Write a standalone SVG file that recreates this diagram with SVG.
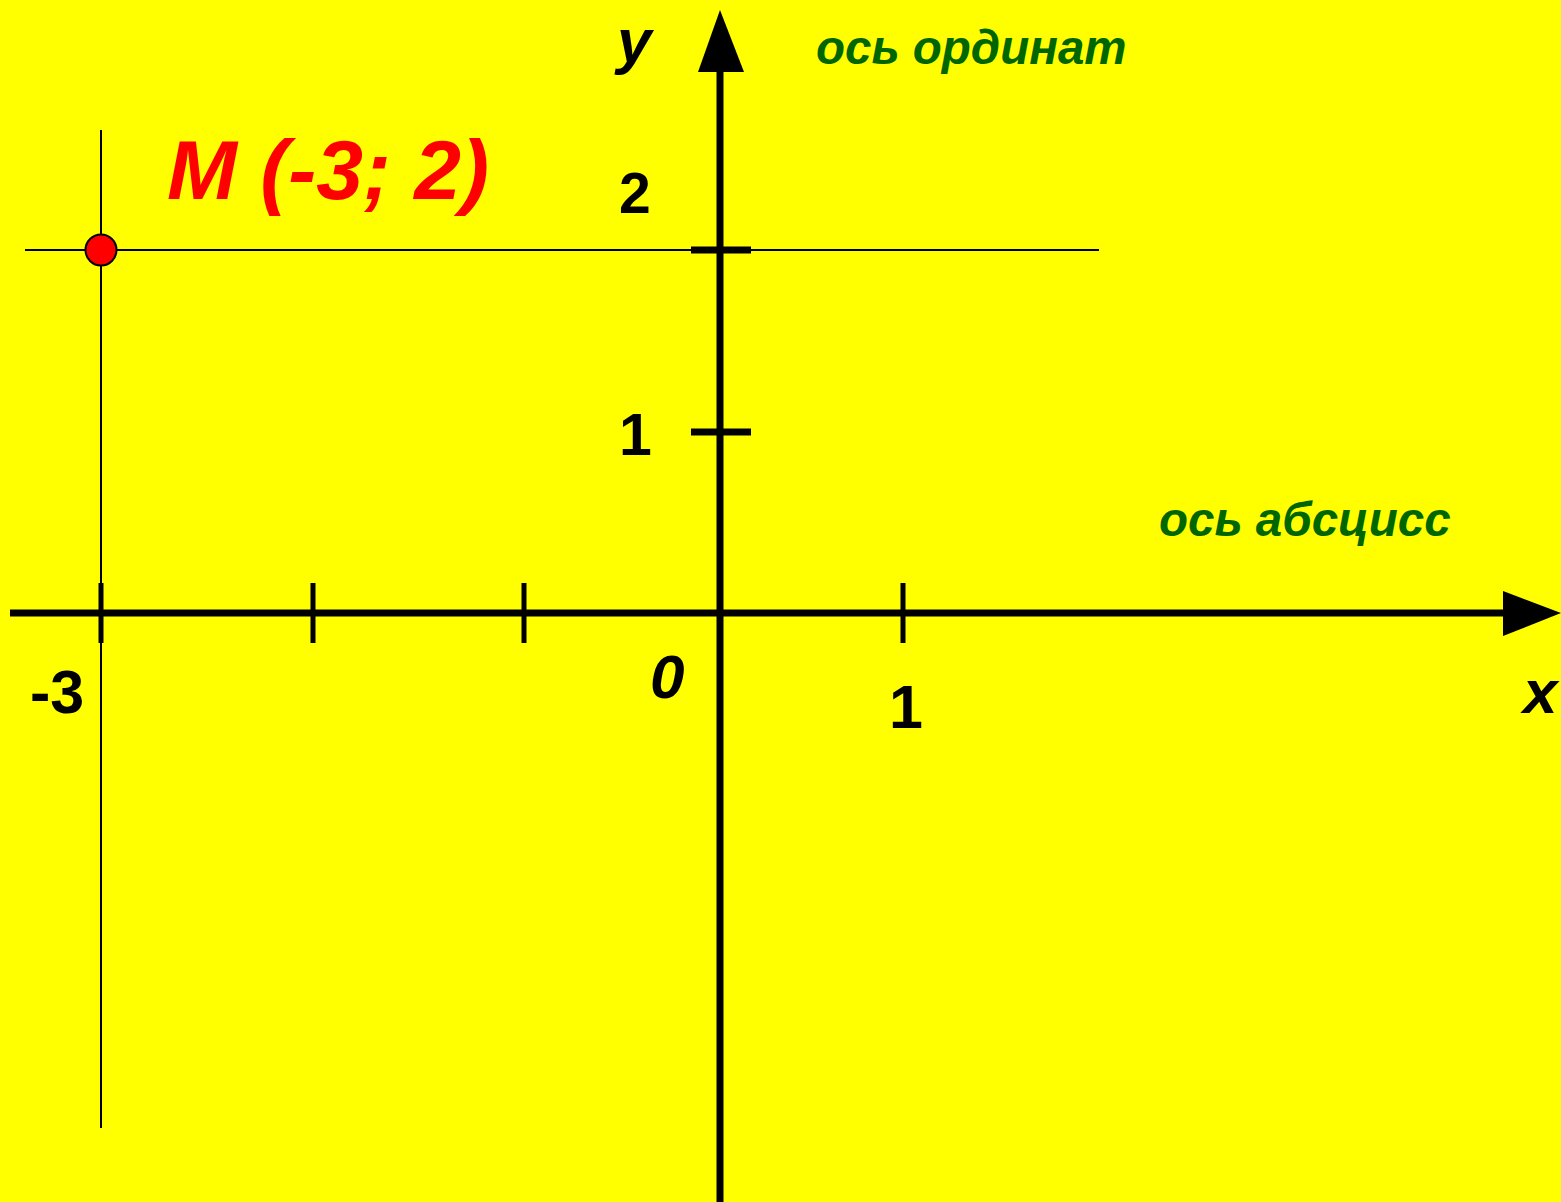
<svg xmlns="http://www.w3.org/2000/svg" width="1561" height="1202" viewBox="0 0 1561 1202">
<style>
.bk{font-family:"Liberation Sans",Arial,sans-serif;font-weight:bold;fill:#000}
.it{font-style:italic}
.gr{font-family:"Liberation Sans",Arial,sans-serif;font-weight:bold;font-style:italic;fill:#006600;font-size:47.5px}
.thin{stroke:#000;stroke-width:2}
.tick{stroke:#000;stroke-width:5}
.axis{stroke:#000;stroke-width:7}
</style>
<rect width="1561" height="1202" fill="#ffff00"/>
<g id="guides">
<line class="thin" x1="101" y1="130" x2="101" y2="1128"/>
<line class="thin" x1="25" y1="250" x2="1099" y2="250"/>
</g>
<g id="connectors">
<line class="axis" x1="10" y1="613" x2="1506" y2="613"/>
<polygon points="1503,591 1561,613 1503,636" fill="#000"/>
<line class="axis" x1="720" y1="1202" x2="720" y2="70"/>
<polygon points="698,72 720,10 744,72" fill="#000"/>
</g>
<g id="ticks">
<line class="tick" x1="101" y1="583" x2="101" y2="643"/>
<line class="tick" x1="313" y1="583" x2="313" y2="643"/>
<line class="tick" x1="524" y1="583" x2="524" y2="643"/>
<line class="tick" x1="903" y1="583" x2="903" y2="643"/>
<line class="axis" x1="691" y1="250" x2="751" y2="250"/>
<line class="axis" x1="691" y1="432" x2="751" y2="432"/>
</g>
<g id="point-M">
<circle cx="101" cy="250" r="15.5" fill="#ff0000" stroke="#000" stroke-width="2"/>
<text x="167" y="199" font-family="Liberation Sans, Arial, sans-serif" font-weight="bold" font-style="italic" font-size="84" fill="#ff0000">M (-3; 2)</text>
</g>
<g id="labels">
<text class="bk it" x="617" y="62" font-size="62">y</text>
<text class="gr" x="816" y="64">ось ординат</text>
<text class="gr" x="1159" y="536">ось абсцисс</text>
<text class="bk" x="619" y="213" font-size="57">2</text>
<text class="bk" x="619" y="455" font-size="59">1</text>
<text class="bk" x="30" y="713" font-size="61">-3</text>
<text class="bk it" x="650" y="698" font-size="62">0</text>
<text class="bk" x="889" y="728" font-size="61">1</text>
<text class="bk it" x="1523" y="713" font-size="62">x</text>
</g>
</svg>
